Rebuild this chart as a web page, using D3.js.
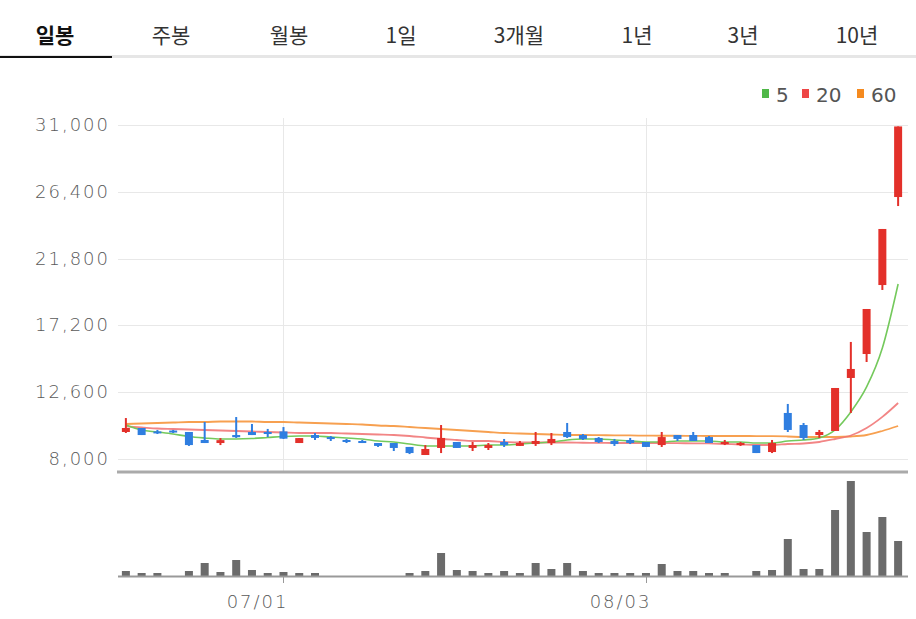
<!DOCTYPE html>
<html>
<head>
<meta charset="utf-8">
<script src="https://cdn.jsdelivr.net/npm/d3@7"></script>
<style>
    body { margin: 0; background: #fff; }
    svg { display: block; }
</style>
</head>
<body>
<svg id="chart" width="916" height="619"></svg>
<script>
// tabs on top
var tabs = ['일봉', '주봉', '월봉', '1일', '3개월', '1년', '3년', '10년']

// trading days
var dates = ['06/17', '06/18', '06/19', '06/22', '06/23', '06/24', '06/25', '06/26', '06/29', '06/30',
    '07/01', '07/02', '07/03', '07/06', '07/07', '07/08', '07/09', '07/10', '07/13', '07/14',
    '07/15', '07/16', '07/17', '07/20', '07/21', '07/22', '07/23', '07/24', '07/27', '07/28',
    '07/29', '07/30', '07/31', '08/03', '08/04', '08/05', '08/06', '08/07', '08/10', '08/11',
    '08/12', '08/13', '08/14', '08/18', '08/19', '08/20', '08/21', '08/24', '08/25', '08/26']

var openP = [9860, 10135, 9900, 9960, 9860, 9310, 9100, 9650, 9860, 9860,
    9900, 9100, 9650, 9510, 9310, 9240, 9100, 9100, 8830, 8275,
    8760, 9170, 8760, 8760, 9170, 8900, 9030, 9100, 9860, 9650,
    9450, 9240, 9310, 9170, 8960, 9650, 9650, 9510, 9030, 8960,
    8960, 8480, 11170, 10340, 9650, 9930, 13580, 15230, 19980, 26040]
var highP = [10820, 10135, 10000, 10000, 9860, 10550, 9440, 10890, 10410, 10070,
    10200, 9440, 9790, 9580, 9380, 9310, 9100, 9100, 8830, 8960,
    10340, 9170, 9170, 9100, 9380, 9240, 9860, 9790, 10480, 9720,
    9510, 9380, 9450, 9170, 9860, 9650, 9860, 9580, 9310, 9170,
    8960, 9310, 11790, 10480, 10000, 12890, 16060, 18330, 23840, 30900]
var lowP = [9790, 9650, 9720, 9790, 8900, 9100, 8960, 9450, 9650, 9510,
    9380, 9100, 9310, 9240, 9100, 9100, 8830, 8550, 8340, 8275,
    8410, 8760, 8550, 8620, 8830, 8900, 8900, 8960, 9450, 9310,
    9100, 8900, 9030, 8830, 8830, 9240, 9240, 9100, 8960, 8900,
    8410, 8410, 9860, 9310, 9450, 9930, 11170, 14680, 19640, 25420]
var closeP = [10135, 9650, 9830, 9860, 8960, 9100, 9300, 9500, 9650, 9720,
    9400, 9440, 9450, 9380, 9170, 9100, 8900, 8760, 8410, 8690,
    9450, 8760, 8960, 8960, 8960, 9100, 9240, 9380, 9510, 9380,
    9170, 9030, 9100, 8830, 9510, 9380, 9240, 9100, 9170, 9100,
    8410, 9100, 10000, 9450, 9860, 12890, 14200, 18330, 23840, 30900]

var volume = [50000, 30000, 30000, 0, 50000, 130000, 40000, 160000, 60000, 30000,
    40000, 30000, 30000, 0, 0, 0, 0, 0, 30000, 50000,
    230000, 60000, 50000, 30000, 50000, 30000, 130000, 70000, 130000, 50000,
    30000, 30000, 30000, 30000, 120000, 50000, 50000, 30000, 30000, 0,
    50000, 60000, 370000, 70000, 70000, 660000, 950000, 440000, 590000, 350000]

// moving averages
var ma5 = [10340, 9997, 9860, 9720, 9550, 9450, 9380, 9380, 9410, 9480,
    9550, 9580, 9580, 9510, 9450, 9380, 9240, 9170, 9030, 8900,
    8900, 8900, 8900, 8960, 8960, 9030, 9100, 9170, 9310, 9380,
    9380, 9310, 9240, 9170, 9170, 9240, 9240, 9240, 9170, 9170,
    9100, 9100, 9240, 9310, 9450, 10000, 11240, 12960, 15640, 20050]
var ma20 = [10240, 10170, 10100, 10066, 10031, 9997, 9963, 9928, 9894, 9859,
    9825, 9790, 9790, 9790, 9756, 9721, 9687, 9653, 9584, 9480,
    9377, 9308, 9239, 9239, 9171, 9136, 9136, 9136, 9136, 9120,
    9110, 9102, 9102, 9102, 9102, 9090, 9080, 9070, 9033, 8998,
    8964, 8964, 9033, 9067, 9171, 9377, 9620, 10135, 10900, 11856]
var ma60 = [10410, 10445, 10479, 10513, 10548, 10548, 10582, 10582, 10582, 10548,
    10548, 10513, 10479, 10445, 10410, 10376, 10307, 10272, 10204, 10135,
    10066, 9997, 9928, 9859, 9790, 9756, 9721, 9687, 9653, 9653,
    9640, 9630, 9620, 9610, 9600, 9600, 9590, 9584, 9584, 9584,
    9580, 9570, 9549, 9515, 9515, 9515, 9549, 9653, 9928, 10272]

var priceTicks = [8000, 12600, 17200, 21800, 26400, 31000]
var dateTicks = ['07/01', '08/03']

var legendItems = [
    {label: '5', color: '#4fb848'},
    {label: '20', color: '#ee4646'},
    {label: '60', color: '#f58a1f'}
]

var svg = d3.select('#chart')

function translate(x, y) {
    return 'translate(' + x + ',' + y + ')'
}

// ---- tabs ----
// tab centres follow the page layout (not equal widths)
var tabCenters = [55, 171, 289, 401, 519, 637, 743, 857]
svg.append('rect').attr('x', 0).attr('y', 55).attr('width', 916).attr('height', 3).attr('fill', '#e6e6e6')
svg.append('rect').attr('x', 0).attr('y', 56).attr('width', 112).attr('height', 2).attr('fill', '#111')
svg.selectAll('.tab')
    .data(tabs)
    .enter().append('text')
    .attr('class', 'tab')
    .attr('x', (d, i) => tabCenters[i])
    .attr('y', 43)
    .attr('text-anchor', 'middle')
    .attr('font-family', '"Noto Sans CJK KR", "Noto Sans", sans-serif')
    .attr('font-size', 21)
    .attr('font-weight', (d, i) => i == 0 ? 700 : 400)
    .attr('fill', (d, i) => i == 0 ? '#111' : '#333')
    .text(d => d)

// ---- legend ----
var legend = svg.append('g')
var lx = 762
legendItems.forEach(item => {
    legend.append('rect').attr('x', lx).attr('y', 89).attr('width', 7).attr('height', 9).attr('fill', item.color)
    legend.append('text')
        .attr('x', lx + 14).attr('y', 102)
        .attr('font-family', '"DejaVu Sans", sans-serif')
        .attr('font-size', 20)
        .attr('fill', '#555')
        .text(item.label)
    lx += item.label.length == 1 ? 40 : 55
})

// ---- scales ----
var x = d3.scaleBand()
    .domain(dates)
    .range([118, 906])
    .padding(0)

var y = d3.scaleLinear()
    .domain([8000, 31000])
    .range([459, 125])

var yVol = d3.scaleLinear()
    .domain([0, 1000000])
    .range([576, 476])

var cx = d => x(d) + x.bandwidth() / 2

// horizontal grid
svg.append('g').selectAll('line')
    .data(priceTicks)
    .enter().append('line')
    .attr('x1', 118).attr('x2', 908)
    .attr('y1', d => Math.round(y(d)) + 0.5).attr('y2', d => Math.round(y(d)) + 0.5)
    .attr('stroke', '#e8e8e8')

// vertical grid
svg.append('g').selectAll('line')
    .data(dateTicks)
    .enter().append('line')
    .attr('x1', d => Math.round(cx(d)) + 0.5).attr('x2', d => Math.round(cx(d)) + 0.5)
    .attr('y1', 118).attr('y2', 472)
    .attr('stroke', '#e8e8e8')

// y labels
svg.append('g').selectAll('text')
    .data(priceTicks)
    .enter().append('text')
    .attr('x', 110)
    .attr('y', d => y(d) + 6)
    .attr('text-anchor', 'end')
    .attr('font-family', '"DejaVu Sans", sans-serif')
    .attr('font-weight', 200)
    .attr('font-size', 18)
    .attr('letter-spacing', 2)
    .attr('fill', '#5a5a5a')
    .text(d => d3.format(',')(d))

// separator line between price and volume
svg.append('line')
    .attr('x1', 117).attr('x2', 908).attr('y1', 472).attr('y2', 472)
    .attr('stroke', '#aaa').attr('stroke-width', 3)

// ---- moving averages ----
function maLine(values, color, width, opacity) {
    var line = d3.line()
        .x((d, i) => cx(dates[i]))
        .y(d => y(d))
        .curve(d3.curveMonotoneX)
    svg.append('path')
        .datum(values)
        .attr('d', line)
        .attr('fill', 'none')
        .attr('stroke', color)
        .attr('stroke-width', width)
        .attr('stroke-opacity', opacity)
}
maLine(ma60, '#f7a050', 1.8, 1)
maLine(ma20, '#f07070', 1.8, 0.85)
maLine(ma5, '#74c95c', 1.6, 1)

// ---- candles ----
var candles = svg.append('g').selectAll('g')
    .data(dates)
    .enter().append('g')

function candleColor(i) {
    return closeP[i] >= openP[i] ? '#e3302a' : '#2f7ee0'
}

candles.append('rect')
    .attr('x', d => cx(d) - 1)
    .attr('width', 2)
    .attr('y', (d, i) => y(highP[i]))
    .attr('height', (d, i) => Math.max(1, y(lowP[i]) - y(highP[i])))
    .attr('fill', (d, i) => candleColor(i))

candles.append('rect')
    .attr('x', d => cx(d) - 4)
    .attr('width', 8)
    .attr('y', (d, i) => y(Math.max(openP[i], closeP[i])))
    .attr('height', (d, i) => Math.max(2, Math.abs(y(openP[i]) - y(closeP[i]))))
    .attr('fill', (d, i) => candleColor(i))

// ---- volume ----
svg.append('g').selectAll('rect')
    .data(dates)
    .enter().append('rect')
    .attr('x', d => cx(d) - 4)
    .attr('width', 8)
    .attr('y', (d, i) => yVol(volume[i]))
    .attr('height', (d, i) => yVol(0) - yVol(volume[i]))
    .attr('fill', '#6b6b6b')

svg.append('line')
    .attr('x1', 118).attr('x2', 908).attr('y1', 576.5).attr('y2', 576.5)
    .attr('stroke', '#999').attr('stroke-width', 2)

// x ticks and labels
var xt = svg.append('g').selectAll('g')
    .data(dateTicks)
    .enter().append('g')
    .attr('transform', d => translate(Math.round(cx(d)) + 0.5, 0))

xt.append('line')
    .attr('y1', 576).attr('y2', 583)
    .attr('stroke', '#999')

xt.append('text')
    .attr('x', 5)
    .attr('y', 608)
    .attr('text-anchor', 'end')
    .attr('font-family', '"DejaVu Sans", sans-serif')
    .attr('font-weight', 200)
    .attr('font-size', 18)
    .attr('letter-spacing', 2)
    .attr('fill', '#5a5a5a')
    .text(d => d)
</script>
</body>
</html>
